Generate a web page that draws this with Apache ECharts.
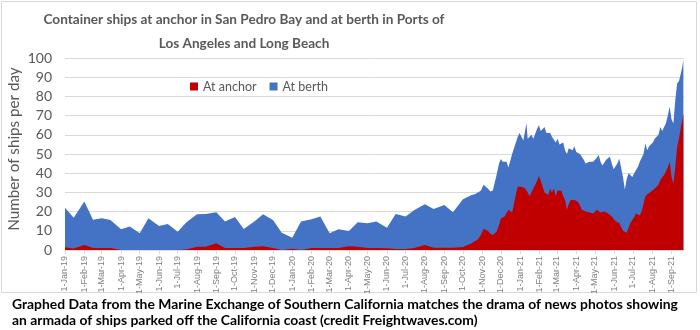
<!DOCTYPE html>
<html><head><meta charset="utf-8">
<script src="https://cdn.jsdelivr.net/npm/echarts@6/dist/echarts.min.js"></script>
<style>html,body{margin:0;padding:0;background:#fff}#c{width:700px;height:330px}</style>
</head><body><div id="c"></div>
<script>
// ---- data ----
const dates = [
'2019-01-01','2019-01-15','2019-02-01','2019-02-15','2019-03-01','2019-03-15','2019-04-01','2019-04-15',
'2019-05-01','2019-05-15','2019-06-01','2019-06-15','2019-07-01','2019-07-15','2019-08-01','2019-08-15',
'2019-09-01','2019-09-15','2019-10-01','2019-10-15','2019-11-01','2019-11-15','2019-12-01','2019-12-15',
'2020-01-01','2020-01-15','2020-02-01','2020-02-15','2020-03-01','2020-03-15','2020-04-01','2020-04-15',
'2020-05-01','2020-05-15','2020-06-01','2020-06-15','2020-07-01','2020-07-15','2020-08-01','2020-08-15',
'2020-09-01','2020-09-15','2020-10-01','2020-10-15',
'2020-10-20','2020-10-25','2020-10-30','2020-11-03','2020-11-06','2020-11-10','2020-11-14','2020-11-18',
'2020-11-21','2020-11-24','2020-11-28','2020-12-01','2020-12-04','2020-12-07','2020-12-10','2020-12-13',
'2020-12-16','2020-12-19','2020-12-22','2020-12-25','2020-12-28','2020-12-31',
'2021-01-03','2021-01-06','2021-01-09','2021-01-11','2021-01-13','2021-01-16','2021-01-19','2021-01-22',
'2021-01-25','2021-01-28','2021-01-31','2021-02-03','2021-02-06','2021-02-09','2021-02-12','2021-02-15',
'2021-02-18','2021-02-21','2021-02-24','2021-02-27','2021-03-02','2021-03-05','2021-03-08','2021-03-11',
'2021-03-14','2021-03-17','2021-03-20','2021-03-23','2021-03-26','2021-03-29','2021-04-01','2021-04-04',
'2021-04-07','2021-04-10','2021-04-13','2021-04-16','2021-04-19','2021-04-22','2021-04-25','2021-04-28',
'2021-05-01','2021-05-04','2021-05-07','2021-05-10','2021-05-13','2021-05-16','2021-05-19','2021-05-22',
'2021-05-25','2021-05-28','2021-05-31','2021-06-03','2021-06-06','2021-06-09','2021-06-12','2021-06-15',
'2021-06-18','2021-06-21','2021-06-24','2021-06-27','2021-06-30','2021-07-03','2021-07-06','2021-07-09',
'2021-07-12','2021-07-15','2021-07-18','2021-07-21','2021-07-24','2021-07-27','2021-07-30','2021-08-02',
'2021-08-05','2021-08-08','2021-08-11','2021-08-14','2021-08-17','2021-08-20','2021-08-23','2021-08-26',
'2021-08-29','2021-09-01','2021-09-04','2021-09-07','2021-09-10','2021-09-13','2021-09-16','2021-09-18',
'2021-09-20'
];
const atAnchor = [
1.4,0.8,2.6,1,1,1,0,0, 0,0,0,0,0,0.3,1.7,1.7, 3.5,1,1,1,1.7,2,1,0,
0.6,0,1,1,1,1,2,1.7, 1,1,0.9,0.5,0.5,1,2.6,1.2, 1.2,1.2,1.5,3.5,
4.5,5.5,8,11,11.5,10,8.5,7.8, 8,9.5,13,16.5,16,17.5,18,21, 22,19.5,24,29,33,34,
33,34,32,31,30,28,30,32, 33,36,38.5,36,33,30,31,28.6, 32,30,32,28,31,30,31,28,
26,21,24,26,25,26,25,25, 23,21,20.5,20,20,19.5,19,19, 20,21,20.5,19.5,19,20,19,19,
18.5,17.5,17,15,14.5,14,12,10, 9.5,9,10,14,15.6,17,19,18.5, 18,20,24,27.8,29,29,30.4,31,
32,33,34,36.5,36,39,40,43, 46,38,34.7,43,53.8,58,64,67, 71
];
const atBerth = [
20.6,16,22.6,14.8,15.5,14.6,10.8,12.3, 8.7,16.5,12.5,13.5,9.5,14.1,16.9,17.1, 16.1,13.8,16.2,9.9,13.1,16.6,14.6,9,
5.8,14.8,15,16.4,7.7,9.8,7.9,12.7, 12.9,13.8,10.7,18.3,16.9,19.8,21.2,20.2, 22.2,18.4,24.9,25.1,
24.5,24.5,23,23,21.5,22,22,23.2, 27,29.5,32,30.9,30,27.5,28,22, 20,30.5,29,27,26,27,
26,23,26,35,28,29,30,26, 26,27,26.5,26,29.5,34,30,31.4, 29,29,26,28,27,25,23.7,28,
26,29,29,28,27,28,26,27, 27,28,26.5,25,24,26.5,26,27, 27,27,29,26.5,25,25,28,27,
30.1,27.5,25,26,30.5,33.5,31,28, 22,28,30,25,22.4,23,22,24.9, 28,28,26,27.8,23,25,23.4,25,
26,26,26,27.5,26,23.5,26,27, 28.6,30,31.3,35,33,30,28,28, 28
];
const monthTicks = [
'2019-01-01','2019-02-01','2019-03-01','2019-04-01','2019-05-01','2019-06-01','2019-07-01','2019-08-01',
'2019-09-01','2019-10-01','2019-11-01','2019-12-01','2020-01-01','2020-02-01','2020-03-01','2020-04-01',
'2020-05-01','2020-06-01','2020-07-01','2020-08-01','2020-09-01','2020-10-01','2020-11-01','2020-12-01',
'2021-01-01','2021-02-01','2021-03-01','2021-04-01','2021-05-01','2021-06-01','2021-07-01','2021-08-01',
'2021-09-01'
];
const monthNames = ['Jan','Feb','Mar','Apr','May','Jun','Jul','Aug','Sep','Oct','Nov','Dec'];
const titleLines = ['Container ships at anchor in San Pedro Bay and at berth in Ports of','Los Angeles and Long Beach'];
const captionLines = ['Graphed Data from the Marine Exchange of Southern California matches the drama of news photos showing','an armada of ships parked off the California coast (credit Freightwaves.com)'];
const yAxisTitle = 'Number of ships per day';

function ts(s){ const p=s.split('-').map(Number); return Date.UTC(p[0],p[1]-1,p[2]); }
// stacked areas: anchor at the bottom, berth stacked on top of it
const anchorData = dates.map((d,i)=>[ts(d), atAnchor[i]]);
const berthStackTop = dates.map((d,i)=>[ts(d), atAnchor[i]+atBerth[i]]);
const tickVals = monthTicks.map(ts);

const chart = echarts.init(document.getElementById('c'), null, {renderer:'canvas'});
const FONT = 'Lato, "Open Sans", sans-serif';
chart.setOption({
  animation:false,
  grid:{left:65, right:16, top:58, bottom:80, containLabel:false},
  legend:{
    data:['At anchor','At berth'], top:75, left:185, itemWidth:8, itemHeight:8, itemGap:13, icon:'rect',
    textStyle:{fontFamily:FONT, fontSize:12.5, color:'#595959'}
  },
  xAxis:{
    type:'value', min:ts('2019-01-01'), max:ts('2021-09-21'),
    axisLine:{show:true, lineStyle:{color:'#d9d9d9'}},
    axisTick:{show:true, customValues:tickVals, length:4, lineStyle:{color:'#d9d9d9'}},
    axisLabel:{customValues:tickVals, rotate:90, fontFamily:'"Liberation Sans", Arial, sans-serif', fontSize:9, color:'#7f7f7f', margin:6,
      formatter:function(v){ const d=new Date(v); return d.getUTCDate()+'-'+monthNames[d.getUTCMonth()]+'-'+String(d.getUTCFullYear()).slice(2); }},
    splitLine:{show:false}
  },
  yAxis:{
    type:'value', min:0, max:100, interval:10,
    axisLine:{show:false}, axisTick:{show:false},
    axisLabel:{fontFamily:FONT, fontSize:14, color:'#595959', margin:13},
    splitLine:{lineStyle:{color:'#d9d9d9', width:1}}
  },
  series:[
    {name:'At berth', type:'line', data:berthStackTop, showSymbol:false, symbol:'none', z:2,
     lineStyle:{width:0}, areaStyle:{color:'#4472c4', opacity:1}, itemStyle:{color:'#4472c4'}},
    {name:'At anchor', type:'line', data:anchorData, showSymbol:false, symbol:'none', z:3,
     lineStyle:{width:0}, areaStyle:{color:'#c00000', opacity:1}, itemStyle:{color:'#c00000'}}
  ],
  graphic:[
    {type:'rect', shape:{x:1.5, y:1.5, width:695, height:291}, style:{fill:'none', stroke:'#d9d9d9', lineWidth:1}, silent:true},
    {type:'text', x:244, y:20, style:{text:titleLines[0], font:'bold 13.6px '+FONT, fill:'#595959', textAlign:'center', textVerticalAlign:'middle'}},
    {type:'text', x:244, y:44, style:{text:titleLines[1], font:'bold 13.6px '+FONT, fill:'#595959', textAlign:'center', textVerticalAlign:'middle'}},
    {type:'text', x:14, y:149, rotation:Math.PI/2, style:{text:yAxisTitle, font:'15.2px '+FONT, fill:'#595959', textAlign:'center', textVerticalAlign:'middle'}},
    {type:'text', x:12, y:305, style:{text:captionLines[0], font:'bold 13.9px '+FONT, fill:'#000', textAlign:'left', textVerticalAlign:'middle'}},
    {type:'text', x:12, y:321, style:{text:captionLines[1], font:'bold 13.9px '+FONT, fill:'#000', textAlign:'left', textVerticalAlign:'middle'}}
  ]
});
</script></body></html>
